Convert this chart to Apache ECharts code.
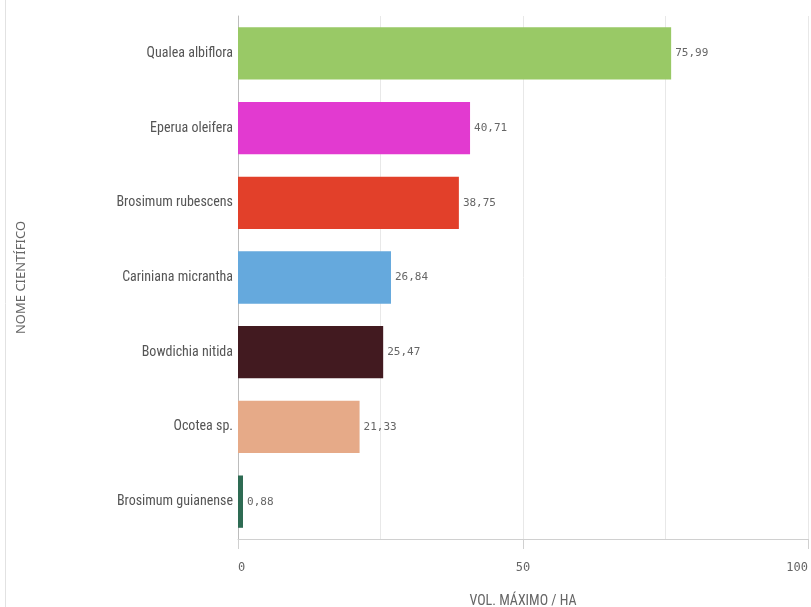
<!DOCTYPE html>
<html><head><meta charset="utf-8">
<script src="https://cdn.jsdelivr.net/npm/echarts@6/dist/echarts.min.js"></script>
<style>html,body{margin:0;padding:0;background:#fff}#c{width:811px;height:607px}</style>
</head><body><div id="c"></div>
<script>
var categories = ["Qualea albiflora","Eperua oleifera","Brosimum rubescens","Cariniana micrantha","Bowdichia nitida","Ocotea sp.","Brosimum guianense"];
var values = [75.99, 40.71, 38.75, 26.84, 25.47, 21.33, 0.88];
var colors = ["#99c966","#e23ad0","#e2402a","#65a9dd","#421a20","#e6aa88","#2e6b53"];
var xTicks = [0, 50, 100];

var chart = echarts.init(document.getElementById('c'), null, {renderer:'canvas'});
var narrow = "'Liberation Sans Narrow','Roboto Condensed','Liberation Sans',sans-serif";
var mono = "'DejaVu Sans Mono',monospace";
chart.setOption({
  animation:false,
  backgroundColor:'#fff',
  graphic:[{type:'line',shape:{x1:5.5,y1:0,x2:5.5,y2:607},style:{stroke:'#e2e2e2',lineWidth:1}}],
  grid:{left:238,right:3,top:16,bottom:68,outerBoundsMode:'none',containLabel:false},
  xAxis:[{type:'value',min:0,max:100,interval:25,
    name:'VOL. MÁXIMO / HA',nameLocation:'middle',nameGap:55,
    nameTextStyle:{color:'#666',fontSize:14,fontFamily:narrow},
    axisLine:{show:true,lineStyle:{color:'#d0d0d0'}},
    axisTick:{show:false},
    axisLabel:{margin:23,color:'#666',fontSize:12,fontFamily:mono,alignMaxLabel:'right',alignMinLabel:'left',
      formatter:function(v){return xTicks.indexOf(v)>=0?String(v):'';}},
    splitLine:{show:true,lineStyle:{color:'#e8e8e8'}}},
   {type:'value',min:0,max:100,interval:50,position:'bottom',
    axisLine:{show:false},axisLabel:{show:false},splitLine:{show:false},
    axisTick:{show:true,length:10,lineStyle:{color:'#d0d0d0'}}}],
  yAxis:{type:'category',data:categories,inverse:true,
    name:'NOME CIENTÍFICO',nameLocation:'middle',nameGap:210,nameRotate:90,
    nameTextStyle:{color:'#666',fontSize:13,fontFamily:"'Noto Sans',sans-serif"},
    axisLine:{show:true,lineStyle:{color:'#bcbcbc'}},
    axisTick:{show:false},
    axisLabel:{margin:5,color:'#555',fontSize:14,fontFamily:narrow}},
  series:[{type:'bar',xAxisIndex:0,barCategoryGap:'30%',
    data:values.map(function(v,i){return {value:v,itemStyle:{color:colors[i]}};}),
    label:{show:true,position:'right',distance:4,color:'#666',fontSize:11,fontFamily:mono,
      formatter:function(p){return p.value.toFixed(2).replace('.',',');}}}]
});
</script></body></html>
